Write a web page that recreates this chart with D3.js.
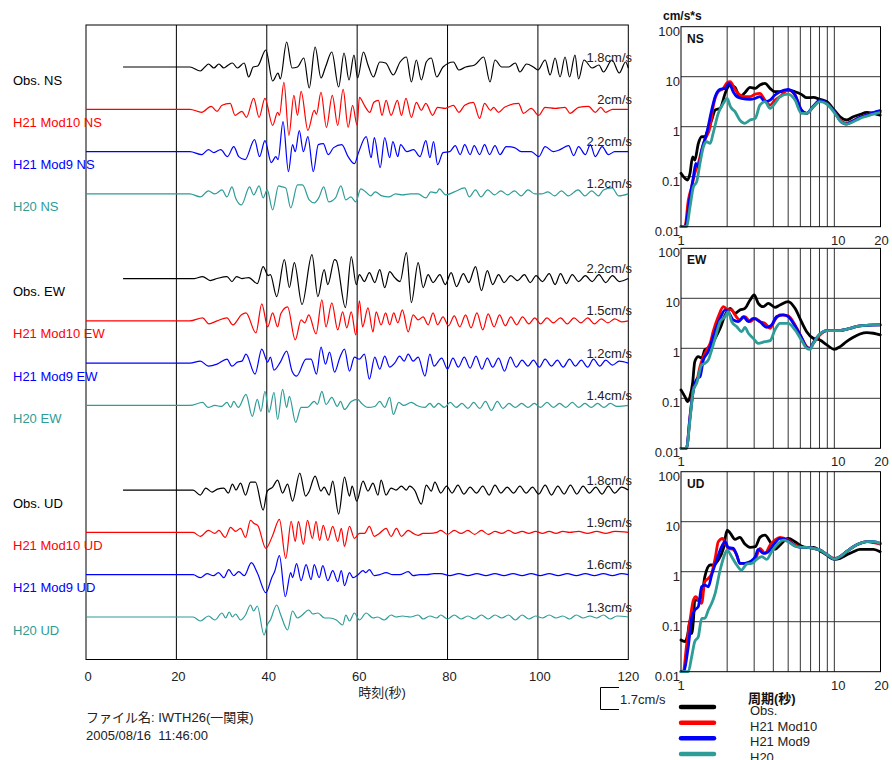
<!DOCTYPE html>
<html><head><meta charset="utf-8">
<script src="https://cdn.jsdelivr.net/npm/d3@7"></script>
<style>
body{margin:0;background:#fff}
svg text{font-family:"Liberation Sans",Arial,"Noto Sans CJK JP",sans-serif}
</style>
</head><body>
<svg id="chart" width="892" height="760"></svg>
<script>
// ---------------- DATA ----------------
const timeTicks = [0, 20, 40, 60, 80, 100, 120];
const traceLabels = ["Obs. NS","H21 Mod10 NS","H21 Mod9 NS","H20 NS",
                     "Obs. EW","H21 Mod10 EW","H21 Mod9 EW","H20 EW",
                     "Obs. UD","H21 Mod10 UD","H21 Mod9 UD","H20 UD"];
const ampLabels = ["1.8cm/s","2cm/s","2.2cm/s","1.2cm/s",
                   "2.2cm/s","1.5cm/s","1.2cm/s","1.4cm/s",
                   "1.8cm/s","1.9cm/s","1.6cm/s","1.3cm/s"];
// waveforms: [time (s), relative amplitude]
const obsNS = [[8.2,0],[23,0],[25.3,-4],[26.3,0],[27.1,3],[28.3,-1],[29.4,3],[30.5,-1],[31.5,2],[32.4,4],[33.5,-1],[35,4],[36,-10],[37,0],[38,1],[39.8,17],[41.3,-14],[42.5,-6],[43,-12],[44.4,25],[45.6,-1],[46.8,0],[48.2,9],[49.4,-21],[50.7,20],[52,-11],[53,0],[54.4,15],[55.9,-20],[57.1,14],[58.2,-13],[59.3,12],[60.1,-11],[61.4,15],[62.4,2],[63.6,-10],[65,5],[66.3,4],[68,-8],[69.5,5],[70.9,10],[72,-15],[73.1,7],[74.2,-13],[75.3,5],[76.4,9],[77.6,-10],[79,0],[81.3,5],[82.5,-3],[84,0],[86,2],[88,10],[89.4,-15],[90.5,7],[92,0],[93.5,0],[95,4],[96,-5],[97.5,3],[99,0],[100,-3],[101.6,7],[102.7,-8],[103.8,9],[104.9,-10],[106,10],[107,-10],[108.2,12],[109,-12],[110.2,7],[112,-1],[113.5,2],[114.5,-5],[116.4,7],[118,-6],[119.4,5],[120,-1]];
const mod10NS = [[0,0],[23,0],[25.6,-3],[27.7,3],[29,-2],[30.1,4],[31.9,6],[33,-6],[34.5,-2],[35.5,-8],[37.1,11],[38.3,-8],[39.6,11],[41.3,-16],[42.4,-3],[42.8,-6],[43.8,27],[44.9,-26],[46,14],[46.8,-6],[47.6,18],[49.1,-21],[50.5,-1],[51,-5],[52,17],[53.2,-18],[54.5,14],[55.7,-16],[56.9,20],[58,-18],[59,4],[60,-16],[60.5,12],[61.6,4],[62.8,-3],[63.7,7],[64.7,9],[65.5,-6],[66.4,9],[67.5,-6],[68.9,9],[69.8,-6],[70.8,11],[72,-8],[73.1,7],[74.2,-1],[75.2,6],[76.7,-6],[77.8,2],[79.5,1],[81.3,4],[82.5,-3],[83.8,4],[85.7,7],[87.1,-9],[88.2,6],[89.5,-1],[90.2,2],[91.3,-3],[92.6,2],[95.7,6],[96.8,-4],[98.5,1],[100.2,-6],[101.6,2],[103.8,1],[106,2],[107.1,-4],[109,2],[111.2,3],[112.7,-3],[113.9,2],[115,-3],[116.5,0],[120,0]];
const mod9NS = [[0,0],[23,0],[25.6,-3],[27.1,2],[28.3,-1],[29.8,2],[31.3,-5],[32.7,5],[33.8,-5],[35.2,-8],[37.3,12],[38.4,-5],[39.6,11],[41,-11],[42,-5],[42.5,-8],[43.6,30],[44.8,-20],[45.7,7],[46.3,0],[47.2,21],[48.1,0],[49.1,15],[50.3,-20],[51.4,7],[52.5,8],[53.6,-3],[54.8,4],[56.6,7],[58,-5],[59.4,-12],[60.3,-1],[62,15],[63.1,-6],[63.8,14],[65.1,-16],[66.1,14],[67.2,-6],[67.9,10],[69,-5],[69.6,7],[71,0],[72.5,2],[73.9,-5],[75.2,11],[76.1,-6],[76.9,10],[77.8,-13],[79,-1],[80.5,0],[81.7,6],[82.8,-3],[83.8,7],[85,-3],[85.9,6],[87.1,-3],[88.2,7],[89.3,-3],[90.5,6],[91.6,-3],[93,5],[94.8,4],[96.3,0],[98.5,0],[100.2,-5],[101.6,5],[103.4,0],[104.9,2],[106.8,6],[107.9,-4],[109,5],[110.5,-3],[111.6,7],[112.7,-5],[114.2,5],[115.6,-3],[117,0],[120,0]];
const h20NS = [[0,0],[23,0],[25.3,-3],[27.1,3],[28.5,0],[30.1,4],[31.2,-3],[32.3,7],[33.1,-4],[34.4,-11],[36.2,7],[37.1,-1],[38.3,8],[39.2,-4],[40.1,4],[41.3,-16],[42.6,8],[43.5,7],[44.2,6],[45.3,-14],[46.8,9],[47.9,9],[49.4,-6],[50.5,-9],[51.5,-4],[52.6,7],[53.7,-8],[55.2,-4],[56.4,8],[57.5,-6],[58.6,-3],[59.7,-8],[60.8,5],[61.9,2],[63,-2],[64,2],[65.5,-2],[67,-3],[68.5,0],[70,-1],[71.8,0],[73.5,0],[75.2,-4],[76.3,2],[77.5,1],[78.2,5],[79.6,-1],[81.5,2],[83.8,6],[84.8,-3],[86.2,4],[87.4,-3],[88.9,4],[90.4,-1],[91.8,3],[93.3,-1],[94.8,3],[96.3,-2],[97.8,4],[99.3,0],[100.8,0],[102.2,2],[103.7,-2],[105.2,3],[106.7,-2],[108.9,4],[110.4,-2],[111.9,3],[113.4,-2],[114.5,4],[116.4,6],[117.9,-2],[120,0]];
const obsEW = [[8.2,0],[24,0],[25.8,2],[27.5,-2],[29,0],[31.2,2],[32.3,-3],[33.3,2],[34.5,0],[36,1],[37.9,-5],[39.2,12],[40.3,3],[40.8,4],[42.2,-18],[43.9,19],[45,-9],[46.1,16],[47.8,-26],[50,24],[51.3,-18],[52.7,9],[53.5,-6],[55,19],[55.4,18],[57.4,-29],[58.7,22],[59.8,-6],[60.5,4],[61.6,-3],[62.7,6],[63.9,-4],[65,9],[66.1,-9],[67.2,7],[68.3,1],[69.5,-3],[70.9,26],[72,-24],[73.5,16],[74.6,-9],[75.7,4],[76.8,-4],[78.3,4],[79.5,-6],[80.8,6],[82,-8],[83.5,5],[84.7,-4],[86.2,12],[87.5,-12],[88.8,8],[90,-6],[91.3,4],[92.5,-4],[94,3],[95.5,-2],[97,4],[98.3,-4],[99.6,3],[101,-3],[102.5,5],[103.8,-6],[105,5],[106.3,-5],[107.6,4],[109,-3],[110.5,3],[112,-3],[113.5,4],[115,-4],[116.5,3],[118,-3],[120,0]];
const mod10EW = [[0,0],[23,0],[25.8,3],[27.2,-3],[29,0],[31.2,3],[32.5,-4],[34.4,6],[35.4,8],[37.6,-12],[38.9,17],[40.2,-6],[41.3,8],[42.4,-6],[43.1,7],[44.6,14],[46.3,-19],[47.6,1],[48.4,-2],[49.3,6],[50.9,-13],[52.2,21],[53.1,-6],[54.4,18],[55.7,-9],[56.8,9],[57.7,-7],[58.7,9],[59.7,-14],[60.5,20],[61.2,-6],[62.4,13],[63.5,-11],[64.2,9],[65.3,-4],[66.3,8],[67.2,-4],[68.1,8],[69,-2],[70,11],[71.3,-11],[72.4,6],[73.5,1],[74.6,4],[75.7,-4],[76.8,8],[77.8,-4],[79,4],[80.2,-5],[81.5,5],[82.7,-6],[84,6],[85.2,-7],[86.5,8],[87.8,-9],[89,7],[90.3,-6],[91.5,6],[92.8,-5],[94,4],[95.3,-4],[96.6,4],[98,-3],[99.3,3],[100.6,-3],[102,3],[103.4,-2],[105,3],[106.5,-3],[108,3],[109.5,-2],[111,3],[112.5,-3],[114,2],[115.5,-2],[117,2],[118.5,-1],[120,0]];
const mod9EW = [[0,0],[23,0],[25.3,2],[27.1,-3],[29,-1],[31.2,4],[32.3,-3],[33.5,1],[34.5,2],[35.4,9],[37.4,-11],[38.9,14],[40.2,1],[40.8,6],[41.6,-7],[43,1],[44.4,12],[45.6,-8],[46.6,-13],[48.7,4],[49.8,4],[51,-11],[52,16],[53,-1],[53.9,11],[55,-9],[56.2,6],[57.2,14],[58.3,-8],[59.4,6],[60.5,4],[61.6,9],[62.7,-16],[63.9,6],[65,-6],[66.1,7],[67.2,-4],[68.3,0],[69.4,7],[70.4,2],[71.3,9],[72.4,2],[73.5,6],[75,-13],[76.1,9],[77,-3],[78.7,5],[80,-6],[81.2,5],[82.4,-4],[83.7,6],[85,-5],[86.3,7],[87.6,-6],[88.8,5],[90,-4],[91.3,5],[92.6,-8],[93.9,6],[95.2,-4],[96.5,3],[97.8,-3],[99,3],[100.3,-4],[101.6,4],[103,-3],[104.3,3],[105.6,-4],[107,4],[108.3,-3],[109.6,3],[111,-4],[112.3,4],[113.7,-3],[115,3],[116.5,-2],[118,2],[120,0]];
const h20EW = [[0,0],[23,0],[25.8,3],[27,-2],[28.5,0],[30,-1],[31.2,3],[32,-2],[32.7,4],[33.7,-2],[35.4,11],[36.8,-11],[37.9,6],[38.7,-6],[39.6,14],[40.5,-7],[41.6,13],[42.4,-14],[43.5,16],[44.4,-2],[45,9],[46.4,-17],[47.6,-2],[49,-2],[50.5,4],[51.2,1],[52.2,14],[53.1,1],[54.4,8],[55.6,-1],[56.3,4],[57.2,-4],[58.7,4],[60.1,6],[61,2],[62.4,-2],[63.9,-1],[65,4],[66.1,-2],[67.2,8],[68,-9],[69.2,3],[70.3,0],[72,3],[73.2,0],[75,-2],[76.1,2],[77,-2],[78,2],[79.3,-2],[80.6,3],[81.9,-2],[83.2,2],[84.5,-3],[85.8,3],[87.1,-3],[88.4,4],[89.7,-5],[91,4],[92.3,-3],[93.6,2],[95,-2],[96.4,2],[97.8,-2],[99.2,2],[100.6,-2],[102,3],[103.4,-2],[104.8,2],[106.2,-2],[107.6,3],[109,-2],[110.4,2],[111.8,-2],[113.2,2],[114.6,-2],[116,2],[117.5,-1],[120,0]];
const obsUD = [[8.2,0],[23.7,0],[25.3,-5],[26.5,2],[27.9,-2],[29.1,1],[30.5,2],[31.5,-3],[32.4,6],[33.2,0],[34.2,7],[35.3,-5],[36.4,8],[37.5,8],[39.2,-20],[40.1,-1],[41.3,3],[42.4,10],[43.5,-3],[44.6,6],[45.7,-11],[47.3,17],[48.6,-6],[49.3,-2],[50.7,14],[52,-1],[52.7,3],[53.8,-5],[54.6,9],[55.9,-24],[57.2,13],[58.3,-6],[58.9,4],[59.9,-11],[61.3,9],[62.4,-1],[63.5,7],[64.6,-5],[65.3,10],[66.4,-5],[67.5,2],[68.6,0],[69.8,4],[70.9,0],[71.6,4],[72.7,0],[74.2,-14],[75.3,5],[76.4,-1],[77.2,8],[78.5,-3],[79.8,4],[81,-3],[82.3,5],[83.6,-4],[85,3],[86.4,-3],[87.8,4],[89.2,-5],[90.5,5],[91.8,-3],[93.2,3],[94.6,-3],[96,4],[97.4,-3],[98.8,3],[100.2,-4],[101.6,5],[103,-5],[104.4,4],[105.8,-4],[107.2,5],[108.6,-4],[110,4],[111.4,-3],[112.8,3],[114.2,-4],[115.6,4],[117,-3],[118.5,3],[120,0]];
const mod10UD = [[0,0],[23.7,0],[25.3,-4],[27.1,2],[28.5,-1],[29.4,2],[30.8,-5],[32,5],[33.1,1],[34.2,4],[35.3,-5],[36.4,12],[37.2,9],[38,7],[39.8,-16],[41.3,-3],[42.8,13],[44.2,-26],[45.4,11],[46.3,-9],[47,11],[48.1,-12],[49,12],[50.1,-6],[50.9,11],[51.7,-8],[52.5,7],[53.5,-8],[54.6,6],[55.7,-9],[56.5,4],[57.2,-14],[58.3,6],[59.4,-6],[60.5,-1],[61.6,-1],[62.7,6],[63.8,-4],[64.9,-1],[66.4,4],[67.5,-4],[68.7,4],[69.8,-4],[71.3,2],[72.4,-1],[73.5,-3],[74.6,-1],[76.1,-1],[77.6,0],[78.5,2],[80,-2],[81.5,2],[83,-1],[84.5,2],[86,-2],[87.5,2],[89,-2],[90.5,1],[92,-1],[93.5,2],[95,-1],[96.5,1],[98,-1],[99.5,1],[101,-1],[102.5,1],[104,-1],[105.5,1],[107,0],[109,1],[111,-1],[113,1],[115,-1],[117,1],[120,0]];
const mod9UD = [[0,0],[23.7,0],[25.3,-3],[26.8,1],[28.2,-1],[29.3,2],[30.5,-3],[31.6,5],[32.7,-1],[33.8,3],[35,-1],[36.6,12],[37.9,2],[39.8,-18],[41.1,-3],[41.8,4],[42.8,19],[44.1,-22],[45.3,2],[45.7,-3],[46.6,11],[47.6,-6],[48.7,10],[49.8,-5],[50.5,10],[51.6,-3],[52.4,9],[53.5,-6],[54.6,4],[55.7,-7],[56.5,4],[57.2,-11],[58.3,2],[59.1,-3],[60.2,0],[61.3,4],[61.9,2],[62.7,5],[63.8,-1],[65,0],[66.4,2],[67.9,0],[69.4,0],[71.3,3],[72.4,-1],[73.9,0],[75.4,0],[77,1],[78.5,1],[80.5,-1],[82.5,1],[84.5,-1],[86.5,1],[88.5,-1],[90.5,1],[92.5,-1],[94.5,1],[96.5,-1],[98.5,1],[100.5,-1],[102.5,1],[104.5,-1],[106.5,1],[108.5,-1],[110.5,1],[112.5,-1],[114.5,1],[116.5,-1],[118.5,1],[120,0]];
const h20UD = [[0,0],[23.7,0],[25.3,-4],[27.1,1],[28.5,-3],[30.1,4],[30.9,-1],[31.7,5],[32.4,0],[33.1,3],[34.2,-3],[35.3,2],[36.4,12],[37.1,6],[37.9,11],[39.4,-18],[40.1,-8],[40.8,-3],[42.2,12],[43.1,2],[44.6,-13],[45.7,6],[46.8,-1],[47.6,1],[49.3,7],[50.2,3],[51.3,4],[52.8,-1],[53.9,-1],[55.4,-3],[56.8,-8],[57.5,2],[58.3,-4],[59.4,4],[60.5,-3],[62,4],[63.5,-1],[64.5,0],[66,-3],[67.5,2],[68.6,0],[70,1],[71.8,0],[73.5,2],[74.6,-2],[76.1,1],[77.6,-1],[78.5,2],[80,-2],[81.5,2],[83,-2],[84.5,1],[86,-2],[87.5,2],[89,-2],[90.5,2],[92,-1],[93.5,2],[95,-3],[96.5,2],[98,-2],[99.5,1],[101,-1],[102.5,2],[104,-1],[105.5,1],[107,-2],[108.5,2],[110,-1],[111.5,1],[113,-1],[114.5,2],[116,-2],[117.5,1],[120,0]];

// response spectra: [period (s), value (cm/s*s)]
const spNSobs = [[1.00,0.117],[1.06,0.093],[1.105,0.086],[1.145,0.117],[1.19,0.25],[1.23,0.215],[1.297,0.46],[1.364,0.63],[1.43,0.63],[1.507,0.93],[1.585,1.36],[1.67,2.15],[1.80,2.33],[1.94,4.64],[2.0,5.85],[2.09,6.81],[2.25,6.12],[2.42,3.98],[2.61,4.79],[2.82,6.12],[3.05,5.85],[3.27,6.81],[3.53,7.36],[3.81,5.85],[4.10,5.01],[4.42,5.01],[5.0,5.41],[5.54,5.01],[6.1,4.43],[6.6,3.80],[7.3,3.86],[8.05,3.52],[8.93,3.16],[10.0,2.15],[10.9,1.58],[12.0,1.36],[13.3,1.58],[14.7,1.76],[16.3,1.93],[18.0,1.85],[19.9,1.71]];
const spNSmod10 = [[1.0,0.01],[1.06,0.01],[1.116,0.034],[1.174,0.063],[1.23,0.117],[1.297,0.185],[1.364,0.341],[1.43,0.541],[1.55,1.0],[1.62,2.51],[1.75,5.01],[1.89,5.85],[2.0,7.59],[2.09,7.94],[2.25,5.58],[2.42,4.30],[2.61,3.98],[2.82,3.98],[3.05,4.50],[3.27,4.64],[3.53,3.41],[3.81,2.71],[4.10,3.41],[4.42,3.98],[5.0,5.41],[5.54,4.30],[6.1,2.15],[6.6,1.85],[7.3,2.51],[8.05,3.31],[8.93,2.93],[10.0,2.0],[10.9,1.36],[12.0,1.17],[13.3,1.32],[14.7,1.54],[16.3,1.71],[18.0,1.91],[19.9,2.0]];
const spNSmod9 = [[1.0,0.01],[1.06,0.01],[1.145,0.04],[1.205,0.1],[1.25,0.185],[1.297,0.158],[1.364,0.341],[1.47,0.736],[1.585,2.15],[1.67,3.98],[1.80,5.58],[1.94,5.85],[2.06,7.36],[2.19,5.01],[2.31,3.98],[2.48,3.69],[2.82,3.52],[3.05,3.69],[3.27,3.98],[3.53,3.16],[3.81,3.41],[4.10,4.30],[4.42,5.01],[5.0,5.58],[5.54,4.30],[6.1,2.15],[6.6,1.85],[7.3,2.59],[8.05,3.41],[8.93,2.93],[10.0,2.0],[10.9,1.32],[12.0,1.13],[13.3,1.32],[14.7,1.54],[16.3,1.71],[18.0,1.91],[19.9,2.09]];
const spNSh20 = [[1.0,0.01],[1.085,0.01],[1.145,0.025],[1.205,0.063],[1.265,0.079],[1.33,0.185],[1.40,0.398],[1.47,0.5],[1.55,0.464],[1.62,0.736],[1.75,1.85],[1.89,2.93],[2.0,3.69],[2.10,2.51],[2.25,2.0],[2.42,1.36],[2.61,1.17],[2.82,1.36],[3.05,1.47],[3.27,2.71],[3.53,3.16],[3.81,2.33],[4.10,2.93],[4.42,3.98],[5.0,4.50],[5.54,3.41],[6.1,1.85],[6.6,1.85],[7.3,2.51],[8.05,3.16],[8.93,2.84],[10.0,1.91],[10.9,1.32],[12.0,1.13],[13.3,1.26],[14.7,1.47],[16.3,1.63],[18.0,1.79],[19.9,1.91]];
const spEWobs = [[1.0,0.147],[1.06,0.108],[1.105,0.086],[1.145,0.108],[1.19,0.2],[1.23,0.541],[1.297,0.68],[1.364,0.631],[1.43,0.926],[1.55,1.08],[1.67,1.58],[1.80,2.51],[1.94,4.64],[2.09,6.31],[2.25,5.01],[2.42,5.85],[2.61,6.31],[2.82,9.26],[3.0,11.7],[3.19,7.94],[3.44,6.81],[3.71,7.94],[4.10,6.61],[4.42,7.36],[5.0,8.58],[5.54,6.31],[6.1,3.41],[6.6,2.15],[7.3,1.58],[8.05,1.47],[8.93,1.17],[10.0,0.955],[10.9,1.08],[12.0,1.36],[13.3,1.66],[14.7,1.93],[16.3,2.06],[18.0,2.0],[19.9,1.85]];
const spEWmod10 = [[1.0,0.01],[1.085,0.01],[1.145,0.043],[1.205,0.158],[1.265,0.215],[1.33,0.43],[1.40,0.68],[1.47,0.926],[1.55,1.26],[1.62,2.15],[1.75,4.30],[1.89,6.81],[2.0,6.0],[2.14,5.85],[2.25,4.64],[2.42,3.69],[2.61,4.30],[2.82,3.41],[3.05,3.98],[3.27,3.41],[3.53,3.16],[3.81,2.51],[4.10,3.69],[4.42,4.64],[5.0,4.43],[5.54,2.93],[6.1,1.66],[6.6,1.08],[6.94,1.0],[7.3,1.26],[8.05,1.85],[8.93,2.26],[10.0,2.26],[10.9,2.26],[12.0,2.4],[13.3,2.63],[14.7,2.8],[16.3,2.88],[18.0,2.93],[19.9,2.93]];
const spEWmod9 = [[1.0,0.01],[1.085,0.01],[1.145,0.043],[1.205,0.147],[1.278,0.25],[1.33,0.271],[1.40,0.585],[1.507,0.86],[1.62,1.71],[1.80,3.98],[1.94,5.85],[2.03,5.41],[2.19,3.69],[2.37,3.41],[2.55,4.30],[2.75,3.41],[2.96,3.98],[3.27,3.41],[3.62,2.63],[3.90,2.93],[4.21,4.30],[4.65,4.64],[5.0,4.30],[5.54,2.80],[6.1,1.66],[6.6,1.05],[6.94,1.0],[7.3,1.30],[8.05,1.93],[8.93,2.26],[10.0,2.26],[10.9,2.26],[12.0,2.4],[13.3,2.63],[14.7,2.8],[16.3,2.88],[19.9,2.93]];
const spEWh20 = [[1.0,0.01],[1.085,0.01],[1.145,0.037],[1.205,0.147],[1.265,0.2],[1.364,0.464],[1.43,0.5],[1.507,0.585],[1.585,0.926],[1.67,1.58],[1.80,3.41],[1.94,4.30],[2.03,5.41],[2.14,3.41],[2.31,2.71],[2.49,2.15],[2.61,2.63],[2.75,2.0],[2.96,1.58],[3.19,1.26],[3.53,1.36],[3.81,1.42],[4.10,2.33],[4.42,3.16],[5.0,3.16],[5.54,2.33],[6.1,1.47],[6.6,1.0],[6.94,0.955],[7.3,1.26],[8.05,1.93],[8.93,2.26],[10.0,2.26],[10.9,2.26],[12.0,2.4],[13.3,2.63],[14.7,2.8],[16.3,2.88],[18.0,2.93],[19.9,2.93]];
const spUDobs = [[1.0,0.043],[1.06,0.04],[1.105,0.054],[1.145,0.108],[1.174,0.058],[1.205,0.108],[1.23,0.271],[1.297,0.271],[1.364,0.316],[1.43,0.794],[1.55,1.36],[1.62,1.36],[1.75,1.71],[1.89,2.93],[2.0,6.81],[2.10,5.85],[2.25,4.43],[2.42,4.86],[2.61,3.57],[2.82,3.07],[3.05,3.16],[3.27,4.86],[3.53,5.41],[3.81,3.98],[4.10,2.80],[4.42,3.41],[5.0,4.64],[5.54,3.98],[6.1,3.26],[6.6,3.07],[7.3,3.07],[8.05,2.63],[8.93,2.15],[10.0,1.76],[10.9,1.85],[12.0,2.15],[13.3,2.51],[14.7,2.80],[16.3,2.80],[18.0,2.80],[19.9,2.51]];
const spUDmod10 = [[1.0,0.01],[1.035,0.01],[1.085,0.032],[1.145,0.108],[1.205,0.271],[1.25,0.316],[1.317,0.25],[1.364,0.233],[1.43,0.631],[1.507,0.736],[1.585,0.926],[1.67,1.85],[1.75,3.98],[1.87,4.64],[1.94,3.69],[2.03,2.93],[2.19,2.80],[2.31,2.15],[2.42,1.47],[2.61,1.47],[2.82,1.58],[3.05,1.76],[3.27,2.93],[3.53,2.33],[3.81,3.41],[4.10,4.30],[4.42,4.86],[5.0,4.30],[5.54,3.41],[6.1,3.07],[6.6,3.07],[7.3,2.93],[8.05,2.71],[8.93,2.22],[10.0,1.85],[10.9,2.0],[12.0,2.51],[13.3,3.16],[14.7,3.69],[16.3,3.98],[18.0,3.80],[19.9,3.57]];
const spUDmod9 = [[1.0,0.01],[1.035,0.01],[1.116,0.032],[1.174,0.117],[1.23,0.171],[1.297,0.2],[1.364,0.5],[1.43,0.541],[1.507,0.5],[1.585,0.86],[1.71,1.71],[1.84,3.16],[1.94,3.98],[2.03,3.07],[2.19,2.93],[2.31,2.15],[2.42,1.47],[2.61,1.47],[2.82,1.58],[3.05,2.0],[3.19,2.80],[3.44,2.33],[3.71,2.51],[4.0,3.41],[4.42,4.64],[5.0,4.17],[5.54,3.26],[6.1,3.07],[6.6,3.07],[7.3,2.93],[8.05,2.71],[8.93,2.22],[10.0,1.79],[10.9,2.0],[12.0,2.51],[13.3,3.16],[14.7,3.69],[16.3,3.98],[18.0,3.98],[19.9,3.69]];
const spUDh20 = [[1.0,0.01],[1.116,0.01],[1.174,0.02],[1.23,0.04],[1.297,0.05],[1.364,0.117],[1.43,0.117],[1.507,0.171],[1.585,0.233],[1.67,0.37],[1.80,1.08],[1.94,2.33],[2.0,2.71],[2.14,2.0],[2.31,1.36],[2.48,1.08],[2.68,1.42],[2.89,1.47],[3.12,1.76],[3.36,2.0],[3.62,1.76],[3.90,2.51],[4.21,3.41],[4.65,4.30],[5.0,3.98],[5.54,3.26],[6.1,3.07],[6.6,3.07],[7.3,2.93],[8.05,2.71],[8.93,2.22],[10.0,1.79],[10.9,2.0],[12.0,2.51],[13.3,3.16],[14.7,3.69],[16.3,3.98],[18.0,3.98],[19.9,3.69]];

const componentNames = ["NS","EW","UD"];
const seriesNames = ["Obs.","H21 Mod10","H21 Mod9","H20"];
const specYTicks = [100, 10, 1, 0.1, 0.01];
const specYTickLabels = ["100","10","1","0.1","0.01"];
const specGridX = [2,3,4,5,6,7,8,9,10];
const specXTicks = [1, 10, 20];
const scaleBarLabel = "1.7cm/s";

// ---------------- STYLE / LAYOUT ----------------
const colors = ["#000000","#ff0000","#0000ff","#2e9c97"];
const svg = d3.select("#chart");
const FONT = 13;

const waves = [obsNS,mod10NS,mod9NS,h20NS,obsEW,mod10EW,mod9EW,h20EW,obsUD,mod10UD,mod9UD,h20UD];
const rowSlot = [0,1,2,3,5,6,7,8,10,11,12,13];

const x = d3.scaleLinear().domain([0,120]).range([86,628.3]);
const row = d3.scaleLinear().domain([0,13]).range([67,617]);
const amp = d3.scaleLinear().domain([-30,30]).range([30,-30]);
const plotTop = 25, plotBottom = 659.5;

// frame & grid
svg.append("g").selectAll("line").data(timeTicks.slice(1,-1)).join("line")
  .attr("x1",d=>x(d)).attr("x2",d=>x(d)).attr("y1",plotTop).attr("y2",plotBottom)
  .attr("stroke","#000").attr("stroke-width",1);
svg.append("rect").attr("x",x(0)).attr("y",plotTop).attr("width",x(120)-x(0)).attr("height",plotBottom-plotTop)
  .attr("fill","none").attr("stroke","#000").attr("stroke-width",1);

// x tick labels
svg.append("g").selectAll("text").data(timeTicks).join("text")
  .attr("x",d=>x(d)+(d===120?0:2)).attr("y",681).attr("text-anchor","middle")
  .attr("font-size",FONT).attr("fill","#222").text(d=>d);
svg.append("text").attr("x",x(60)+1).attr("y",697).attr("font-size",FONT).attr("fill","#222").text("時刻(秒)");

// traces
const line = d3.line().curve(d3.curveMonotoneX);
waves.forEach((w,i)=>{
  const base = row(rowSlot[i]);
  const c = colors[i%4];
  svg.append("path").datum(w)
    .attr("d", line.x(d=>x(d[0])).y(d=>base+amp(d[1]))(w))
    .attr("fill","none").attr("stroke",c).attr("stroke-width",1.2).attr("stroke-linejoin","round");
  svg.append("text").attr("x",13).attr("y",base+17.5).attr("font-size",FONT)
    .attr("fill",c).text(traceLabels[i]);
  svg.append("text").attr("x",632).attr("y",base-5.5).attr("font-size",FONT)
    .attr("text-anchor","end").attr("fill","#222").text(ampLabels[i]);
});

// footer
svg.append("text").attr("x",86).attr("y",722).attr("font-size",FONT).attr("fill","#222")
  .text("ファイル名: IWTH26(一関東)");
svg.append("text").attr("x",86).attr("y",740).attr("font-size",FONT).attr("fill","#222")
  .attr("xml:space","preserve").style("white-space","pre").text("2005/08/16  11:46:00");

// scale bar
svg.append("path").attr("d","M619,687.5H600.5V709.5H619").attr("fill","none").attr("stroke","#000").attr("stroke-width",1);
svg.append("text").attr("x",620).attr("y",704).attr("font-size",FONT).attr("fill","#222").text(scaleBarLabel);

// ---------------- SPECTRA ----------------
const spectra = [[spNSobs,spNSmod10,spNSmod9,spNSh20],[spEWobs,spEWmod10,spEWmod9,spEWh20],[spUDobs,spUDmod10,spUDmod9,spUDh20]];
const panelTops = [26.7, 248.3, 471.7];
const panelH = 200;
const sx = d3.scaleLog().domain([1,20]).range([681,880.5]);

svg.append("text").attr("x",663).attr("y",20).attr("font-size",12).attr("font-weight","bold").attr("fill","#111").text("cm/s*s");

panelTops.forEach((top,p)=>{
  const sy = d3.scaleLog().domain([0.01,100]).range([top+panelH, top]);
  const g = svg.append("g");
  g.selectAll("line.v").data(specGridX).join("line").attr("class","v")
    .attr("x1",d=>sx(d)).attr("x2",d=>sx(d)).attr("y1",top).attr("y2",top+panelH)
    .attr("stroke","#333").attr("stroke-width",1);
  g.selectAll("line.h").data(specYTicks.slice(1,-1)).join("line").attr("class","h")
    .attr("x1",sx(1)).attr("x2",sx(20)).attr("y1",d=>sy(d)).attr("y2",d=>sy(d))
    .attr("stroke","#333").attr("stroke-width",1);
  const sline = d3.line().x(d=>sx(d[0])).y(d=>sy(Math.max(0.01,d[1]))).curve(d3.curveMonotoneX);
  spectra[p].forEach((s,k)=>{
    g.append("path").attr("d",sline(s)).attr("fill","none").attr("stroke",colors[k])
      .attr("stroke-width",2.8).attr("stroke-linejoin","round").attr("stroke-linecap","round");
  });
  g.append("rect").attr("x",sx(1)).attr("y",top).attr("width",sx(20)-sx(1)).attr("height",panelH)
    .attr("fill","none").attr("stroke","#000").attr("stroke-width",1);
  g.selectAll("text.yl").data(specYTicks).join("text").attr("class","yl")
    .attr("x",680).attr("y",(d,i)=>sy(d)+9).attr("text-anchor","end").attr("font-size",FONT).attr("fill","#222")
    .text((d,i)=>specYTickLabels[i]);
  g.selectAll("text.xl").data(specXTicks).join("text").attr("class","xl")
    .attr("x",d=>sx(d)+(d===10?4:d===20?1:0)).attr("y",top+panelH+18).attr("text-anchor","middle")
    .attr("font-size",FONT).attr("fill","#222").text(d=>d);
  g.append("text").attr("x",687).attr("y",top+16).attr("font-size",12).attr("font-weight","bold").attr("fill","#111")
    .text(componentNames[p]);
});

// axis title & legend
svg.append("text").attr("x",748).attr("y",703).attr("font-size",FONT).attr("font-weight","bold").attr("fill","#111").text("周期(秒)");
const legY = d3.scaleLinear().domain([0,3]).range([707,754]);
seriesNames.forEach((n,k)=>{
  svg.append("line").attr("x1",681).attr("x2",714).attr("y1",legY(k)).attr("y2",legY(k))
    .attr("stroke",colors[k]).attr("stroke-width",4.5).attr("stroke-linecap","round");
  svg.append("text").attr("x",750).attr("y",legY(k)+8).attr("font-size",FONT).attr("fill","#222").text(n);
});
</script>
</body></html>
